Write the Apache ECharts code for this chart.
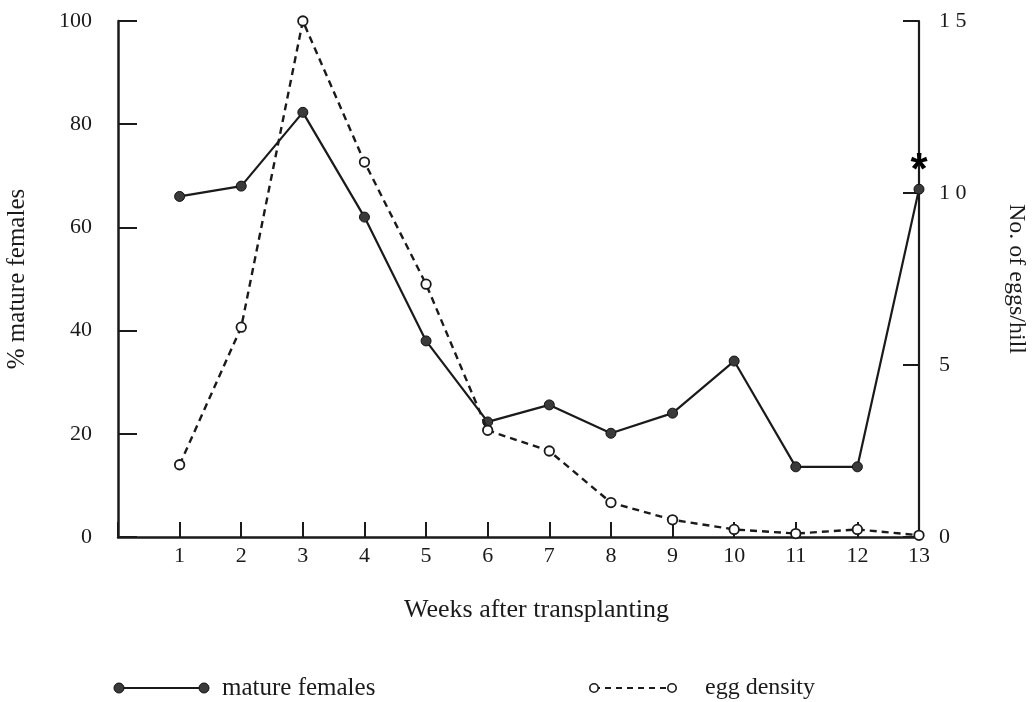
<!DOCTYPE html>
<html><head><meta charset="utf-8">
<script src="https://cdn.jsdelivr.net/npm/echarts@6/dist/echarts.min.js"></script>
<style>html,body{margin:0;padding:0;background:#fff}#c{width:1034px;height:702px}</style>
</head><body><div id="c"></div>
<script>
const weeks = [1,2,3,4,5,6,7,8,9,10,11,12,13];
const matureFemales = [66.0,68.0,82.3,62.0,38.0,22.3,25.6,20.1,24.0,34.1,13.6,13.6,67.4];
const eggDensity = [2.1,6.1,15.0,10.9,7.35,3.1,2.5,1.0,0.5,0.22,0.1,0.22,0.05];
const leftTicks = [0,20,40,60,80,100];
const rightTicks = [0,5,10,15];
const rightTickLabels = ['0','5','1 0','1 5'];
const seriesNames = ['mature females','egg density'];
const starWeekIndex = 12;

const FONT = 'Liberation Serif';
const INK = '#1a1a1a';
const chart = echarts.init(document.getElementById('c'), null, {renderer:'canvas'});

const option = {
  backgroundColor:'#fff',
  animation:false,
  grid:{left:118, right:115, top:21, bottom:165, containLabel:false, outerBoundsMode:'none'},
  xAxis:{
    type:'value', min:0, max:13, interval:1,
    name:'Weeks after transplanting', nameLocation:'middle', nameGap:60,
    nameTextStyle:{fontFamily:FONT, fontSize:26, color:INK, padding:[0,0,0,36]},
    axisLine:{show:true, lineStyle:{color:INK, width:2.5}},
    axisTick:{show:true, inside:true, length:15, lineStyle:{color:INK, width:2}},
    axisLabel:{fontFamily:FONT, fontSize:22, color:INK, margin:8,
      formatter:v=> v===0 ? '' : String(v)},
    splitLine:{show:false}
  },
  yAxis:[
    {type:'value', min:leftTicks[0], max:leftTicks[leftTicks.length-1], interval:20, position:'left',
     name:'% mature females', nameLocation:'middle', nameGap:88, nameRotate:90,
     nameTextStyle:{fontFamily:FONT, fontSize:25, color:INK},
     axisLine:{show:true, lineStyle:{color:INK, width:2.5}},
     axisTick:{show:true, inside:true, length:19, lineStyle:{color:INK, width:2}},
     axisLabel:{fontFamily:FONT, fontSize:22, color:INK, margin:26},
     splitLine:{show:false}},
    {type:'value', min:rightTicks[0], max:rightTicks[rightTicks.length-1], interval:5, position:'right',
     name:'No. of eggs/hill', nameLocation:'middle', nameGap:85, nameRotate:-90,
     nameTextStyle:{fontFamily:FONT, fontSize:24, color:INK},
     axisLine:{show:true, lineStyle:{color:INK, width:2.2}},
     axisTick:{show:true, inside:true, length:16, lineStyle:{color:INK, width:2}},
     axisLabel:{fontFamily:FONT, fontSize:22, color:INK, margin:20,
       formatter:v=>{const i=rightTicks.indexOf(v); return i>=0?rightTickLabels[i]:String(v);}},
     splitLine:{show:false}}
  ],
  series:[
    {name:seriesNames[0], type:'line', yAxisIndex:0,
     data:weeks.map((w,i)=>[w,matureFemales[i]]),
     symbol:'circle', symbolSize:10, z:3,
     lineStyle:{color:INK, width:2.2},
     itemStyle:{color:'#3a3a3a', borderColor:'#111', borderWidth:1},
     markPoint:{symbol:'circle', symbolSize:0, silent:true,
       data:[{coord:[weeks[starWeekIndex], matureFemales[starWeekIndex]]}],
       label:{show:true, formatter:'*', fontFamily:'Liberation Sans', fontWeight:'bold', fontSize:44, color:'#000', offset:[0,-17]}}
    },
    {name:seriesNames[1], type:'line', yAxisIndex:1,
     data:weeks.map((w,i)=>[w,eggDensity[i]]),
     symbol:'circle', symbolSize:9.5, z:4,
     lineStyle:{color:INK, width:2.4, type:[7,5]},
     itemStyle:{color:'#fff', borderColor:INK, borderWidth:1.8}
    }
  ],
  graphic:[
    {type:'line', shape:{x1:119,y1:688,x2:204,y2:688}, style:{stroke:INK, lineWidth:2.2}},
    {type:'circle', shape:{cx:119,cy:688,r:5}, style:{fill:'#3a3a3a', stroke:'#111', lineWidth:1}},
    {type:'circle', shape:{cx:204,cy:688,r:5}, style:{fill:'#3a3a3a', stroke:'#111', lineWidth:1}},
    {type:'text', x:222, y:688, style:{text:seriesNames[0], fontFamily:FONT, fontSize:25, fill:INK, textVerticalAlign:'middle'}},
    {type:'line', shape:{x1:594,y1:688,x2:672,y2:688}, style:{stroke:INK, lineWidth:2.2, lineDash:[6,5]}},
    {type:'circle', shape:{cx:594,cy:688,r:4.2}, style:{fill:'#fff', stroke:INK, lineWidth:1.6}},
    {type:'circle', shape:{cx:672,cy:688,r:4.2}, style:{fill:'#fff', stroke:INK, lineWidth:1.6}},
    {type:'text', x:705, y:688, style:{text:seriesNames[1], fontFamily:FONT, fontSize:24, fill:INK, textVerticalAlign:'middle'}}
  ]
};
chart.setOption(option);
</script></body></html>
